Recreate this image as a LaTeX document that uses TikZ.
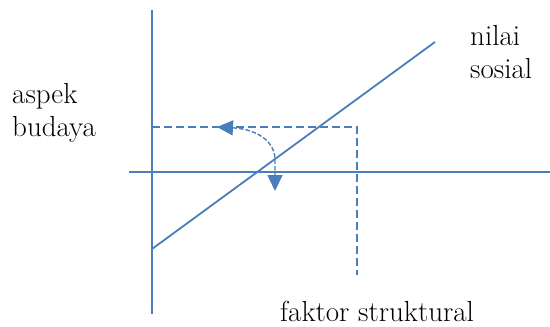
\documentclass[tikz,border=0pt]{standalone}
\usepackage{tikz}
\usetikzlibrary{arrows.meta}
\definecolor{axisblue}{RGB}{74,126,187}

\begin{document}
\begin{tikzpicture}[x=1pt, y=-1pt,
    line/.style={axisblue, line width=1.8pt},
    guide/.style={axisblue, line width=1.8pt, dash pattern=on 8pt off 4pt},
    turn/.style={axisblue, line width=1.4pt, dash pattern=on 4.5pt off 2pt,
      {Triangle[length=16pt,width=15pt]}-{Triangle[length=16pt,width=15pt]}},
    label/.style={font=\fontsize{29}{33.5}\selectfont, align=left, inner sep=0pt}]
  \useasboundingbox (0,0) rectangle (550,327);

  % Axes
  \coordinate (ytop) at (152,10);
  \coordinate (ybot) at (152,314);
  \coordinate (xleft) at (129,172);
  \coordinate (xright) at (550,172);
  \draw[line] (ytop) -- (ybot);
  \draw[line] (xleft) -- (xright);

  % Value line
  \coordinate (vstart) at (152,249);
  \coordinate (vend) at (435,42);
  \draw[line] (vstart) -- (vend);

  % Dashed guides
  \coordinate (gleft) at (152,127);
  \coordinate (gcorner) at (357,127);
  \coordinate (gbot) at (357,275);
  \draw[guide] (gleft) -- (gcorner) -- (gbot);

  % Turning arrow
  \coordinate (tleft) at (217,127);
  \coordinate (tmid) at (275,160);
  \coordinate (tdown) at (275,191);
  \draw[turn] (tleft) .. controls (255,129) and (275,140) .. (tmid) -- (tdown);

  % Labels
  \node[label, anchor=north west] (nilai) at (470,25) {nilai\\sosial};
  \node[label, anchor=north west] (aspek) at (12,83) {aspek\\budaya};
  \node[label, anchor=north west] (faktor) at (280,301) {faktor struktural};
\end{tikzpicture}
\end{document}
